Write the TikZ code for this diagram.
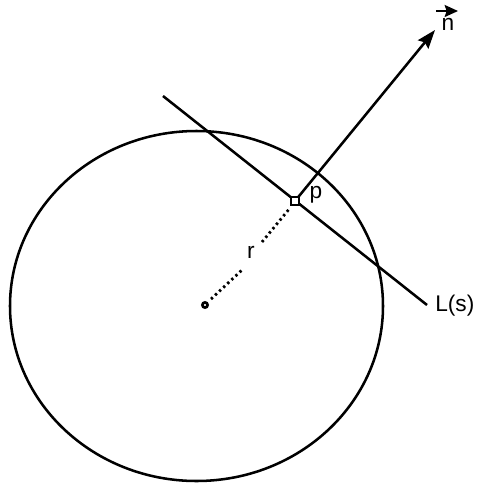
\documentclass[tikz,border=0pt]{standalone}
\usepackage{fontspec}
\setmainfont{Liberation Sans}
\usetikzlibrary{arrows.meta}
\begin{document}
\begin{tikzpicture}[x=0.75pt,y=-0.75pt,
  thickline/.style={line width=1.9pt},
  lbl/.style={inner sep=0pt,font=\fontsize{17}{20}\selectfont},
  dotline/.style={line width=2.1pt,dash pattern=on 1.8pt off 2.4pt},
  sq/.style={draw,line width=1.5pt,minimum size=6pt,inner sep=0pt,fill=white}]
\useasboundingbox (0,0) rectangle (480,487);
% circle
\draw[thickline] (196.5,306) ellipse [x radius=186.5, y radius=175];
% line L(s)
\coordinate (ls0) at (163,96);
\coordinate (ls1) at (427,305);
\draw[thickline] (ls0) -- (ls1);
% center
\coordinate (o) at (205,305);
\draw[line width=2pt] (o) circle [radius=2.6];
% point p
\coordinate (p) at (295,201);
% normal arrow
\coordinate (tip) at (435,30);
\draw[thickline,-{Stealth[length=14pt,width=10pt,inset=2pt]}] (p) -- (tip);
% dotted radius with gap
\coordinate (d0) at (211,299);
\coordinate (d1) at (243,269);
\coordinate (d2) at (262,242);
\coordinate (d3) at (290,208);
\draw[dotline] (d0) -- (d1);
\draw[dotline] (d2) -- (d3);
\node[sq] (psq) at (p) {};
% labels
\node[lbl] (plbl) at (316,195) {p};
\node[lbl] (rlbl) at (251,252) {r};
\node[lbl,anchor=west] (llbl) at (435,306) {L(s)};
\node[lbl] (nlbl) at (448,24) {n};
\coordinate (va) at (436,11);
\coordinate (vb) at (458,11);
\draw[line width=1.6pt,-{Stealth[length=10pt,width=9pt,inset=1.5pt]}] (va) -- (vb);
\end{tikzpicture}
\end{document}
